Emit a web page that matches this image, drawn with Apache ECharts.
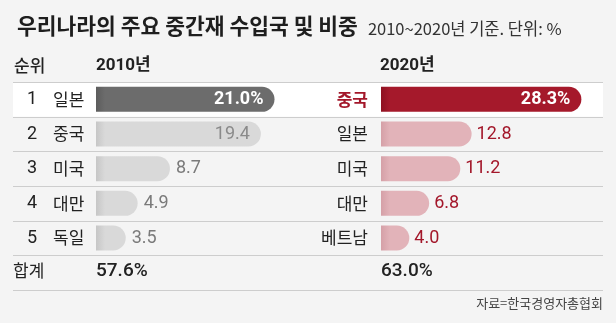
<!DOCTYPE html>
<html>
<head>
<meta charset="utf-8">
<script src="https://cdn.jsdelivr.net/npm/echarts@6/dist/echarts.min.js"></script>
<style>
  html, body { margin: 0; padding: 0; background: #f4f4f4; }
  #chart { width: 616px; height: 323px; }
</style>
</head>
<body>
<div id="chart"></div>
<script>
// ---- data ----
const ranks = ['1', '2', '3', '4', '5'];
const countries2010 = ['일본', '중국', '미국', '대만', '독일'];
const shares2010 = [21.0, 19.4, 8.7, 4.9, 3.5];
const countries2020 = ['중국', '일본', '미국', '대만', '베트남'];
const shares2020 = [28.3, 12.8, 11.2, 6.8, 4.0];
const totals = [57.6, 63.0];
const headers = ['순위', '2010년', '2020년'];
const totalLabel = '합계';
const titleText = '우리나라의 주요 중간재 수입국 및 비중';
const subtitleText = '2010~2020년 기준. 단위: %';
const sourceText = '자료=한국경영자총협회';

// ---- layout ----
const TABLE_LEFT = 13, TABLE_RIGHT = 603;
const TABLE_TOP = 82, ROW_H = 34.67;
const ROWS = ranks.length;
const BAR_L = 96, BAR_R = 381;
const SCALE_MAX = 30;
const PX_L = 8.5, PX_R = 7.08;     // pixels per percentage point
const KR = "'Noto Sans CJK KR', sans-serif";
const NUM = "Roboto, 'Noto Sans CJK KR', sans-serif";

// darker band at the start of every bar, fading into the bar colour
function shade(x, dark, base) {
  return {
    type: 'linear', global: true, x: x, y: 0, x2: x + 9, y2: 0,
    colorStops: [{ offset: 0, color: dark }, { offset: 1, color: base }]
  };
}

function buildItems(values, x, topColors, restColors, insideColor, outsideColor, outsideDist) {
  return values.map((v, i) => {
    const c = i === 0 ? topColors : restColors;
    const inside = v >= 15;
    return {
      value: v,
      itemStyle: { color: shade(x, c[0], c[1]) },
      label: inside
        ? { position: 'insideRight', distance: 11, color: i === 0 ? '#ffffff' : insideColor,
            fontWeight: i === 0 ? 'bold' : 'normal' }
        : { position: 'right', distance: outsideDist, color: outsideColor }
    };
  });
}

const leftData = buildItems(shares2010, BAR_L, ['#5c5c5c', '#6c6c6c'], ['#c6c6c6', '#d9d9d9'], '#8a8a8a', '#7a7a7a', 6);
const rightData = buildItems(shares2020, BAR_R, ['#8e1121', '#a5192b'], ['#d5a0a7', '#e2b3b9'], '#ffffff', '#a3172a', 5);

const barLabel = {
  show: true,
  fontFamily: NUM,
  fontSize: 18,
  formatter: p => p.value.toFixed(1) + (p.dataIndex === 0 ? '%' : '')
};

const totalsY = TABLE_TOP + ROW_H * (ROWS + 0.5);
const hidden = { show: false };

// table rules: one above every row, one below the totals row
const rules = [];
for (let k = 0; k <= ROWS + 1; k++) {
  const y = Math.round(TABLE_TOP + k * ROW_H) + 0.5;
  rules.push({
    type: 'line', z: 1, silent: true,
    shape: { x1: TABLE_LEFT, y1: y, x2: TABLE_RIGHT, y2: y },
    style: { stroke: '#cdcdcd', lineWidth: 1 }
  });
}

const chart = echarts.init(document.getElementById('chart'), null, { renderer: 'canvas' });

chart.setOption({
  backgroundColor: '#f4f4f4',
  animation: false,
  title: {
    left: TABLE_LEFT - 1,
    top: 7,
    text: '{a|' + titleText + '}  {b|' + subtitleText + '}',
    textStyle: {
      rich: {
        a: { fontFamily: KR, fontSize: 21.5, fontWeight: 'bold', color: '#1e1e1e', lineHeight: 28 },
        b: { fontFamily: KR, fontSize: 16.5, fontWeight: 'normal', color: '#333333', lineHeight: 28, padding: [5, 0, 0, 0] }
      }
    }
  },
  grid: [
    { left: BAR_L, top: TABLE_TOP, width: PX_L * SCALE_MAX, height: ROW_H * ROWS, show: false },
    { left: BAR_R, top: TABLE_TOP, width: PX_R * SCALE_MAX, height: ROW_H * ROWS, show: false }
  ],
  xAxis: [0, 1].map(i => ({
    gridIndex: i, type: 'value', min: 0, max: SCALE_MAX, show: false
  })),
  yAxis: [
    {
      gridIndex: 0, type: 'category', inverse: true, data: countries2010,
      axisLine: hidden, axisTick: hidden, splitLine: hidden, splitArea: hidden,
      axisLabel: {
        margin: 9,
        formatter: (v, i) => '{r|' + ranks[i] + '}{c|' + v + '}',
        rich: {
          r: { fontFamily: NUM, fontSize: 18, color: '#222', width: 26, align: 'left' },
          c: { fontFamily: KR, fontSize: 17, color: '#222', width: 34, align: 'left' }
        }
      }
    },
    {
      gridIndex: 1, type: 'category', inverse: true, data: countries2020,
      axisLine: hidden, axisTick: hidden, splitLine: hidden, splitArea: hidden,
      axisLabel: {
        margin: 13,
        formatter: (v, i) => i === 0 ? '{hi|' + v + '}' : '{n|' + v + '}',
        rich: {
          hi: { fontFamily: KR, fontSize: 17, color: '#a3172a', fontWeight: 'bold' },
          n: { fontFamily: KR, fontSize: 17, color: '#222' }
        }
      }
    }
  ],
  series: [
    {
      type: 'bar', xAxisIndex: 0, yAxisIndex: 0, data: leftData,
      barWidth: 25, itemStyle: { borderRadius: [0, 12.5, 12.5, 0] },
      label: barLabel, silent: true
    },
    {
      type: 'bar', xAxisIndex: 1, yAxisIndex: 1, data: rightData,
      barWidth: 25, itemStyle: { borderRadius: [0, 12.5, 12.5, 0] },
      label: barLabel, silent: true
    }
  ],
  graphic: [
    // highlighted leading row
    { type: 'rect', z: 0, silent: true,
      shape: { x: TABLE_LEFT, y: TABLE_TOP, width: TABLE_RIGHT - TABLE_LEFT, height: ROW_H },
      style: { fill: '#ffffff' } }
  ].concat(rules).concat([
    { type: 'text', left: TABLE_LEFT + 1, top: 57,
      style: { text: headers[0], font: '500 17px ' + KR, fill: '#222' } },
    { type: 'text', left: BAR_L, top: 57,
      style: { text: headers[1], font: 'bold 17px ' + NUM, fill: '#222' } },
    { type: 'text', left: BAR_R - 1, top: 57,
      style: { text: headers[2], font: 'bold 17px ' + NUM, fill: '#222' } },
    { type: 'text', left: TABLE_LEFT, top: totalsY - 11,
      style: { text: totalLabel, font: '17px ' + KR, fill: '#222' } },
    { type: 'text', left: BAR_L, top: totalsY - 11,
      style: { text: totals[0].toFixed(1) + '%', font: '500 19px ' + NUM, fill: '#222' } },
    { type: 'text', left: BAR_R, top: totalsY - 11,
      style: { text: totals[1].toFixed(1) + '%', font: '500 19px ' + NUM, fill: '#222' } },
    { type: 'text', right: 616 - TABLE_RIGHT, top: 297,
      style: { text: sourceText, font: '13px ' + KR, fill: '#444' } }
  ])
});
</script>
</body>
</html>
